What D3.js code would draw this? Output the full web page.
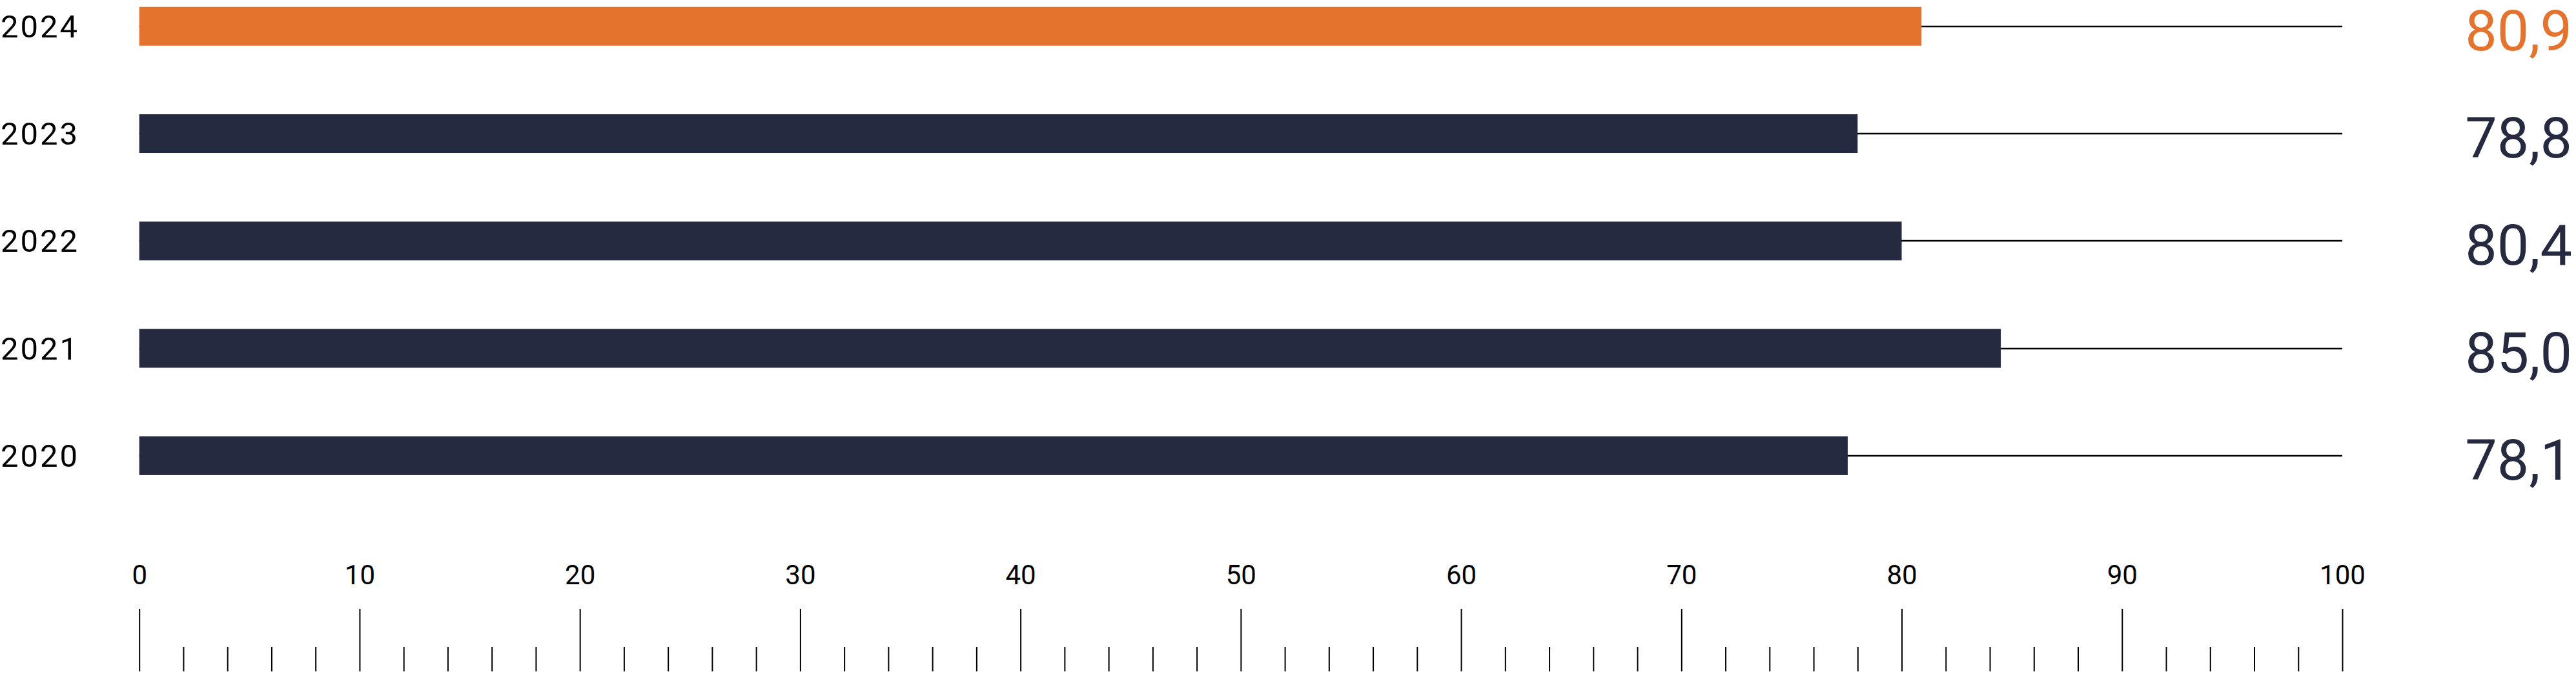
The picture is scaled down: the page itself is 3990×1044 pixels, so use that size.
<!DOCTYPE html>
<html>
<head>
<meta charset="utf-8">
<script src="https://cdn.jsdelivr.net/npm/d3@7"></script>
<style>
  html, body { margin: 0; padding: 0; background: #fff; }
  svg { display: block; }
</style>
</head>
<body>
<svg id="chart" width="3990" height="1044"></svg>
<script>
// ---- data ----
const years = ["2024", "2023", "2022", "2021", "2020"];
const values = [80.9, 78.8, 80.4, 85.0, 78.1];          // printed values
const barLengths = [80.9, 78.0, 80.0, 84.5, 77.55];    // bar ends as drawn in the reference
const highlightYear = "2024";
const majorTicks = [0, 10, 20, 30, 40, 50, 60, 70, 80, 90, 100];
const minorTicks = [2,4,6,8,12,14,16,18,22,24,26,28,32,34,36,38,42,44,46,48,52,54,56,58,62,64,66,68,72,74,76,78,82,84,86,88,92,94,96,98];

// ---- styles ----
const ORANGE = "#E4732D";
const NAVY = "#252A40";
const FONT = "Roboto, 'DejaVu Sans', sans-serif";

const svg = d3.select("#chart");

const x = d3.scaleLinear().domain([0, 100]).range([215.7, 3628]);
const y = d3.scaleBand().domain(years).range([10.7, 735.9])
  .paddingInner(0.639).paddingOuter(0);

const locale = d3.formatLocale({ decimal: ",", thousands: ".", grouping: [3], currency: ["", "€"] });
const fmt = locale.format(".1f");

const rows = years.map((yr, i) => ({ year: yr, value: values[i], len: barLengths[i] }));
const color = d => d.year === highlightYear ? ORANGE : NAVY;
const mid = d => Math.round(y(d.year) + y.bandwidth() / 2);

// reference lines 0..100 behind bars
svg.append("g").selectAll("line").data(rows).join("line")
  .attr("x1", x(0)).attr("x2", x(100))
  .attr("y1", mid).attr("y2", mid)
  .attr("stroke", "#000").attr("stroke-width", 2.5);

// bars
svg.append("g").selectAll("rect").data(rows).join("rect")
  .attr("x", x(0))
  .attr("y", d => y(d.year))
  .attr("width", d => x(d.len) - x(0))
  .attr("height", y.bandwidth())
  .attr("fill", color);

// year labels
svg.append("g").selectAll("text").data(rows).join("text")
  .attr("x", 1)
  .attr("y", d => y(d.year) + y.bandwidth() / 2 + 17)
  .attr("font-family", FONT)
  .attr("font-size", 49)
  .attr("letter-spacing", 3)
  .attr("fill", "#000")
  .text(d => d.year);

// value labels
svg.append("g").selectAll("text").data(rows).join("text")
  .attr("x", 3984)
  .attr("y", d => y(d.year) + y.bandwidth() / 2 + 37)
  .attr("text-anchor", "end")
  .attr("font-family", FONT)
  .attr("font-size", 88)
  .attr("fill", color)
  .text(d => fmt(d.value));

// major axis with labels above the ticks
const major = svg.append("g").attr("transform", "translate(0,943)")
  .call(d3.axisBottom(x).tickValues(majorTicks).tickSize(97).tickFormat(d3.format("d")));
major.select(".domain").remove();
major.selectAll(".tick line").attr("stroke", "#000").attr("stroke-width", 2);
major.selectAll(".tick text")
  .attr("y", -38).attr("dy", 0)
  .attr("font-family", FONT)
  .attr("font-size", 42)
  .attr("fill", "#000");

// minor ticks
const minor = svg.append("g").attr("transform", "translate(0,1002)")
  .call(d3.axisBottom(x).tickValues(minorTicks).tickSize(38).tickFormat(""));
minor.select(".domain").remove();
minor.selectAll(".tick line").attr("stroke", "#000").attr("stroke-width", 2);
</script>
</body>
</html>
